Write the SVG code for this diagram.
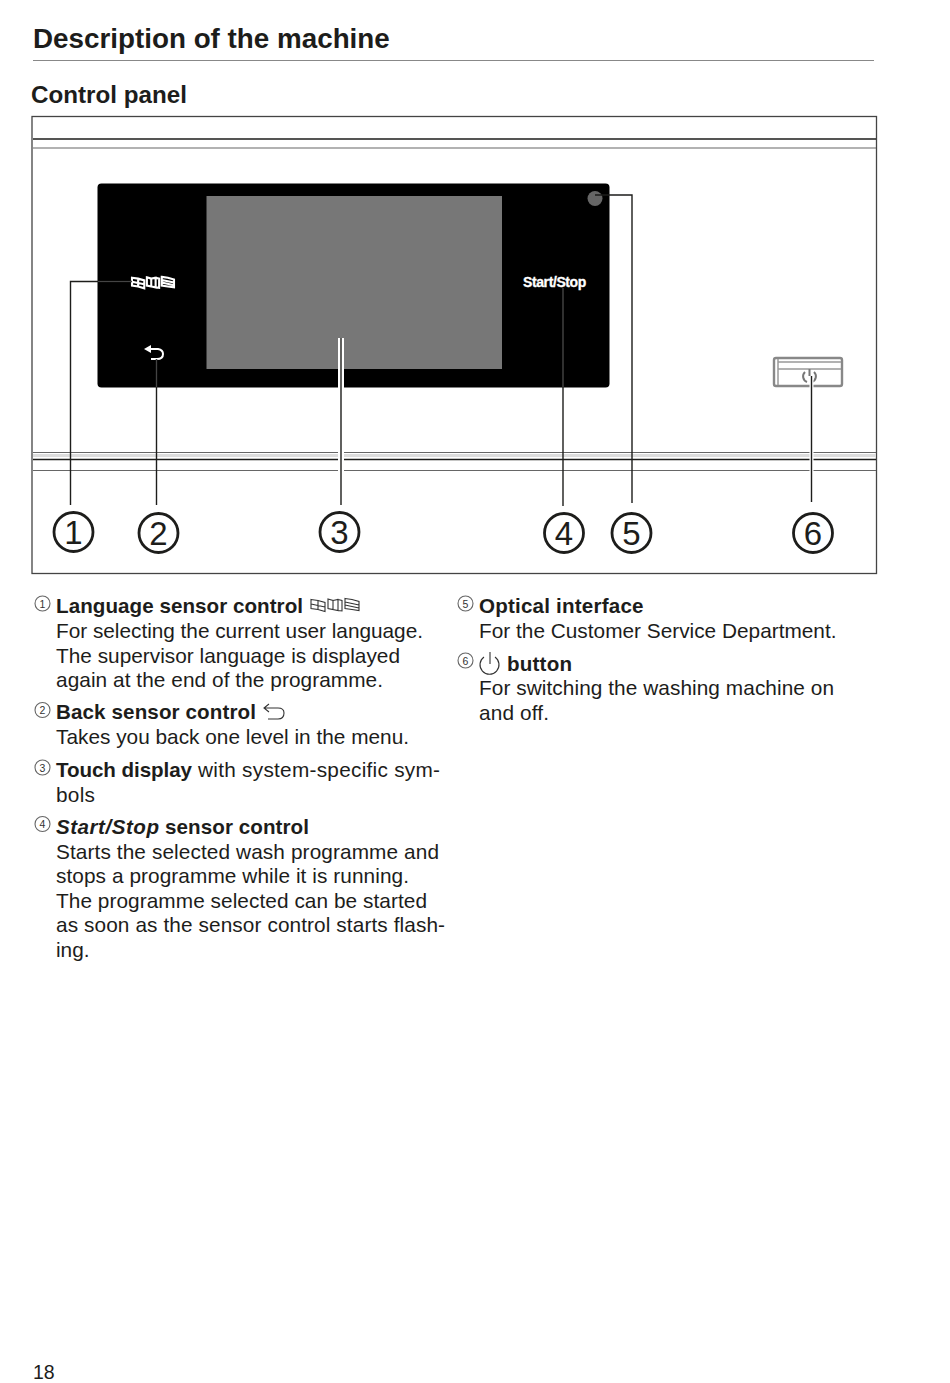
<svg xmlns="http://www.w3.org/2000/svg" width="950" height="1383" viewBox="0 0 950 1383">
<style>
text{font-family:"Liberation Sans",Arial,sans-serif;fill:#1d1d1b}
.b{font-size:20.800px}
.h{font-weight:bold;font-size:20.600px}
.n{font-size:33px;text-anchor:middle}
.s{font-size:10.500px;text-anchor:middle;fill:#333}
.c{fill:#fff;stroke:#1d1d1b;stroke-width:2.800}
.sc{fill:#fff;stroke:#666;stroke-width:1.100}
.l{stroke:#1d1d1b;stroke-width:1.400;fill:none}
.g{stroke:#666;stroke-width:1.200;fill:none}
.i{fill:none;stroke:#333;stroke-width:1.100}
.iw{fill:none;stroke:#fff;stroke-width:2.400}
</style>
<defs>
<g id="lang"><path d="M0 2L7 3L14 5V14L7 12L0 11ZM7 3V12M0 6.500L14 9.500M17 1.500L22 3V12L17 11ZM22 3L27 2V13L22 12ZM27 2L31 3V13.500L27 13ZM34 1L41 2L48 4V13L41 12L34 11ZM34 4.500L48 7.500M34 7.500L48 10.500"/></g>
</defs>
<g id="header">
<text x="33" y="48" font-size="27.800" font-weight="bold">Description of the machine</text>
<line x1="33" y1="60.500" x2="874" y2="60.500" stroke="#888" stroke-width="1"/>
<text x="31" y="103" font-size="24.200" font-weight="bold">Control panel</text>
</g>
<g id="frame">
<rect x="32" y="116.500" width="844.500" height="457" fill="#fff" stroke="#444" stroke-width="1.300"/>
<path class="l" d="M33 139H876" stroke-width="1"/>
<path class="g" d="M33 148H876" stroke="#777"/>
<path d="M33 455.500H876" stroke="#ddd" stroke-width="3"/>
<path class="g" d="M33 452.500H876"/>
<path class="l" d="M33 459.500H876" stroke-width="1.500"/>
<path class="g" d="M33 470.500H876"/>
</g>
<g id="panel">
<rect x="97.500" y="183.500" width="512" height="204" rx="4" fill="#000"/>
<rect x="206.500" y="196" width="295.500" height="173" fill="#777"/>
<circle cx="595" cy="198.500" r="7.500" fill="#666"/>
<use href="#lang" transform="translate(132 276) scale(.875)" class="iw"/>
<path fill="none" stroke="#fff" stroke-width="2" d="M147 349H158Q163 350 163 354Q163 359 157 359H151"/>
<path fill="#fff" d="M144 349L151 345V353Z"/>
<text x="523" y="287" font-size="14" font-weight="bold" stroke="#fff" stroke-width=".3" style="fill:#fff;letter-spacing:-.4px">Start/Stop</text>
</g>
<g id="power-button">
<rect x="774" y="358" width="68" height="28" rx="2" fill="#fff" stroke="#888" stroke-width="2.400"/>
<path d="M778 359V385M778 362H841M778 369H841" stroke="#999" stroke-width="1.500" fill="none"/>
<path d="M805 372A6 6 0 0 0 807 382M814 372A6 6 0 0 1 812 382M809.500 369V376" stroke="#777" stroke-width="2" fill="none"/>
</g>
<g id="connectors">
<path d="M341 338V505" stroke="#fff" stroke-width="6"/>
<path d="M811.500 376V502" stroke="#fff" stroke-width="4"/>
<path class="l" d="M132 281.500H70.500V505"/>
<path class="l" d="M156.500 359V505"/>
<path class="l" d="M341 338V505"/>
<path class="l" d="M563 288V506"/>
<path class="l" d="M595 195H632V503"/>
<path class="l" d="M811.500 376V502"/>
<path d="M563 288V387M156.500 359V387M98 281.500H132" stroke="#444" stroke-width="1.200" fill="none"/>
</g>
<g id="callout-1"><circle class="c" cx="73.500" cy="532" r="19.500"/><text class="n" x="73.500" y="544">1</text></g>
<g id="callout-2"><circle class="c" cx="158.500" cy="533" r="19.500"/><text class="n" x="158.500" y="545">2</text></g>
<g id="callout-3"><circle class="c" cx="339.500" cy="532" r="19.500"/><text class="n" x="339.500" y="544">3</text></g>
<g id="callout-4"><circle class="c" cx="564" cy="533" r="19.500"/><text class="n" x="564" y="545">4</text></g>
<g id="callout-5"><circle class="c" cx="631.500" cy="533" r="19.500"/><text class="n" x="631.500" y="545">5</text></g>
<g id="callout-6"><circle class="c" cx="813" cy="533" r="19.500"/><text class="n" x="813" y="545">6</text></g>
<g id="item-1">
<circle class="sc" cx="42.500" cy="603.500" r="7.500"/><text class="s" x="42.500" y="607.500">1</text>
<text class="h" x="56" y="613" textLength="247">Language sensor control</text>
<use href="#lang" transform="translate(311 597.500)" class="i"/>
<text class="b" x="56" y="638" textLength="367">For selecting the current user language.</text>
<text class="b" x="56" y="662.500" textLength="344">The supervisor language is displayed</text>
<text class="b" x="56" y="687" textLength="327">again at the end of the programme.</text>
</g>
<g id="item-2">
<circle class="sc" cx="42.500" cy="710" r="7.500"/><text class="s" x="42.500" y="714">2</text>
<text class="h" x="56" y="719" textLength="200">Back sensor control</text>
<path class="i" stroke-width="1.200" d="M264 708H278Q284 708 284 713Q284 719 278 719H268M269 704L264 708L269 712"/>
<text class="b" x="56" y="744" textLength="353">Takes you back one level in the menu.</text>
</g>
<g id="item-3">
<circle class="sc" cx="42.500" cy="767.500" r="7.500"/><text class="s" x="42.500" y="771.500">3</text>
<text class="h" x="56" y="777" textLength="136">Touch display</text>
<text class="b" x="198" y="777" textLength="242">with system-specific sym-</text>
<text class="b" x="56" y="801.500" textLength="39">bols</text>
</g>
<g id="item-4">
<circle class="sc" cx="42.500" cy="824" r="7.500"/><text class="s" x="42.500" y="828">4</text>
<text class="h" x="56" y="834" font-style="italic" textLength="103">Start/Stop</text>
<text class="h" x="165" y="834" textLength="144">sensor control</text>
<text class="b" x="56" y="858.500" textLength="383">Starts the selected wash programme and</text>
<text class="b" x="56" y="883" textLength="353">stops a programme while it is running.</text>
<text class="b" x="56" y="907.500" textLength="371">The programme selected can be started</text>
<text class="b" x="56" y="932" textLength="389">as soon as the sensor control starts flash-</text>
<text class="b" x="56" y="956.500">ing.</text>
</g>
<g id="item-5">
<circle class="sc" cx="465.500" cy="603.500" r="7.500"/><text class="s" x="465.500" y="607.500">5</text>
<text class="h" x="479" y="613" textLength="164.500">Optical interface</text>
<text class="b" x="479" y="638" textLength="357.500">For the Customer Service Department.</text>
</g>
<g id="item-6">
<circle class="sc" cx="465.500" cy="660.500" r="7.500"/><text class="s" x="465.500" y="664.500">6</text>
<path class="i" stroke-width="1.300" d="M484 657A9.500 9.500 0 1 0 495 657M490 652V664"/>
<text class="h" x="507" y="671" textLength="65">button</text>
<text class="b" x="479" y="695" textLength="355">For switching the washing machine on</text>
<text class="b" x="479" y="719.500" textLength="70">and off.</text>
</g>
<text id="page-number" x="33" y="1379" font-size="19.500">18</text>
</svg>
